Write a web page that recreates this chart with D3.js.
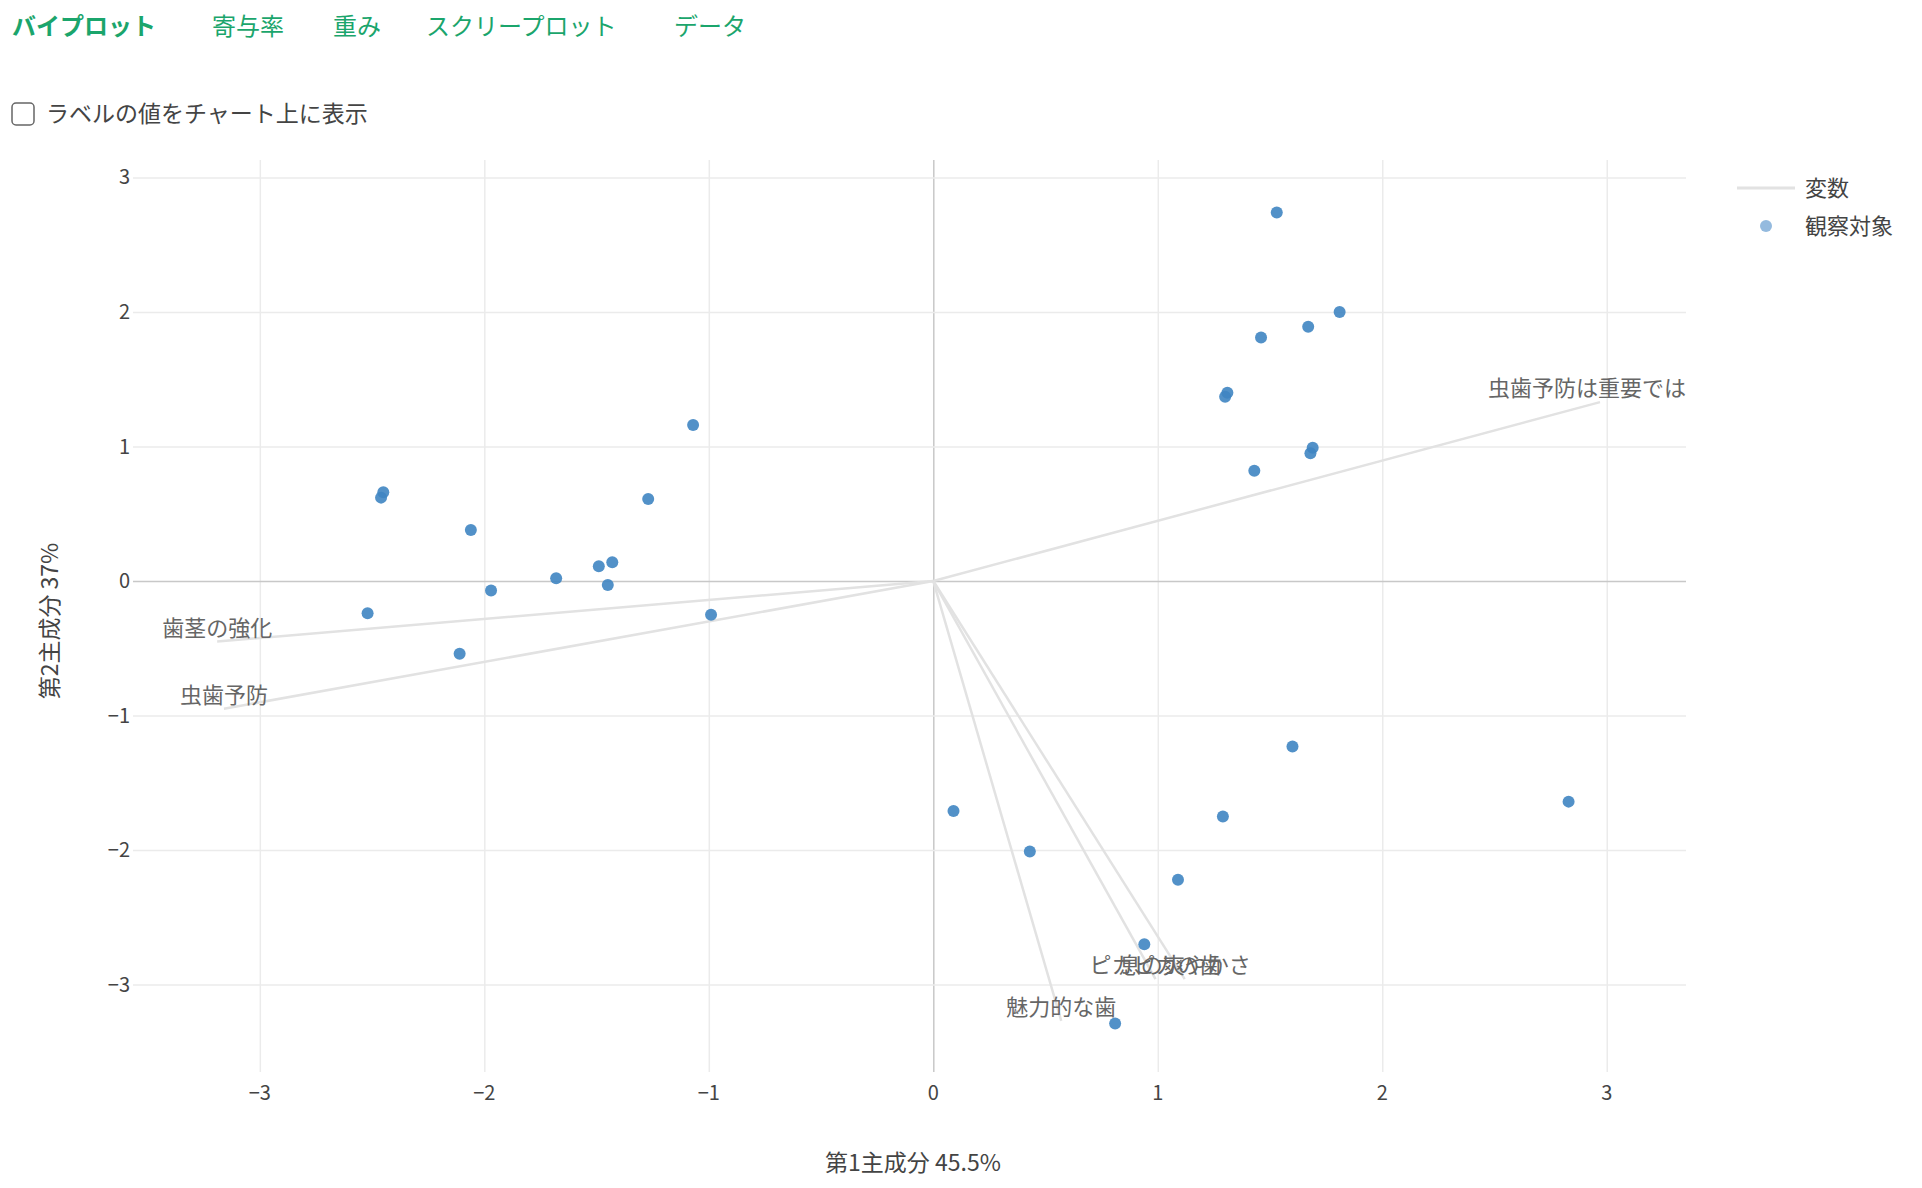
<!DOCTYPE html>
<html><head><meta charset="utf-8">
<script src="https://cdn.jsdelivr.net/npm/d3@7"></script>
<style>
body{margin:0;background:#fff;font-family:"Noto Sans CJK JP","Noto Sans",sans-serif;}
</style></head>
<body><svg id="c" width="1922" height="1188"></svg>
<script>
// ── Data ──────────────────────────────────────────────────────────────
const tabs = ["バイプロット", "寄与率", "重み", "スクリープロット", "データ"];
const tabX = [12, 212, 333, 426, 674];

const obsX = [1.53,1.81,1.67,1.46,1.31,1.30,1.69,1.68,1.43,-1.07,-1.27,-2.45,-2.46,-2.06,-1.68,-1.49,-1.43,-1.45,-1.97,-2.52,-0.99,-2.11,1.60,0.09,1.29,2.83,0.43,1.09,0.94,0.81];
const obsY = [2.74,2.00,1.89,1.81,1.40,1.37,0.99,0.95,0.82,1.16,0.61,0.66,0.62,0.38,0.02,0.11,0.14,-0.03,-0.07,-0.24,-0.25,-0.54,-1.23,-1.71,-1.75,-1.64,-2.01,-2.22,-2.70,-3.29];

const varNames = ["虫歯予防は重要では", "歯茎の強化", "虫歯予防", "魅力的な歯", "ピカピカの歯", "息の爽やかさ"];
const varX = [2.97, -3.19, -3.16, 0.57, 0.99, 1.12];
const varY = [1.33, -0.45, -0.95, -3.27, -2.96, -2.96];

const ticks = [-3, -2, -1, 0, 1, 2, 3];

// ── Layout ────────────────────────────────────────────────────────────
const svg = d3.select("#c");
const L = 133, R = 1686, T = 160, B = 1072;
const x = d3.scaleLinear().domain([-3.565, 3.353]).range([L, R]);
const y = d3.scaleLinear().domain([-3.65, 3.13]).range([B, T]);

// tabs
tabs.forEach((t, i) => {
  svg.append("text").attr("x", tabX[i]).attr("y", 35)
    .attr("fill", "#1ba56c").attr("font-size", 24)
    .attr("font-weight", i === 0 ? "bold" : "normal").text(t);
});
svg.append("rect").attr("x", 12).attr("y", 103).attr("width", 22).attr("height", 22)
  .attr("rx", 4).attr("fill", "#fff").attr("stroke", "#666").attr("stroke-width", 1.5);
svg.append("text").attr("x", 46).attr("y", 122).attr("font-size", 23)
  .attr("fill", "#444").text("ラベルの値をチャート上に表示");

const g = svg.append("g");

// grid
g.append("g").attr("transform", `translate(0,${B})`)
  .call(d3.axisBottom(x).tickValues(ticks).tickSize(-(B - T)).tickFormat(""))
  .call(a => a.select(".domain").remove())
  .selectAll("line").attr("stroke", d => d === 0 ? "#c8c8c8" : "#ebebeb").attr("stroke-width", 1.5);
g.append("g").attr("transform", `translate(${L},0)`)
  .call(d3.axisLeft(y).tickValues(ticks).tickSize(-(R - L)).tickFormat(""))
  .call(a => a.select(".domain").remove())
  .selectAll("line").attr("stroke", d => d === 0 ? "#c8c8c8" : "#ebebeb").attr("stroke-width", 1.5);

// tick labels
const fmt = d => d < 0 ? "−" + Math.abs(d) : String(d);
g.selectAll(".xt").data(ticks).join("text")
  .attr("x", d => x(d)).attr("y", 1100).attr("text-anchor", "middle")
  .attr("font-size", 20).attr("fill", "#444").text(fmt);
g.selectAll(".yt").data(ticks).join("text")
  .attr("x", 130).attr("y", d => y(d) + 7).attr("text-anchor", "end")
  .attr("font-size", 20).attr("fill", "#444").text(fmt);

svg.append("text").attr("x", 913).attr("y", 1171).attr("text-anchor", "middle")
  .attr("font-size", 23).attr("fill", "#444").text("第1主成分 45.5%");
svg.append("text").attr("transform", `translate(58,${y(0) + 40}) rotate(-90)`)
  .attr("text-anchor", "middle").attr("font-size", 23).attr("fill", "#444").text("第2主成分 37%");

// variable vectors
varNames.forEach((n, i) => {
  g.append("line").attr("x1", x(0)).attr("y1", y(0)).attr("x2", x(varX[i])).attr("y2", y(varY[i]))
    .attr("stroke", "#e2e2e2").attr("stroke-width", 2.5);
});

// observations
g.selectAll("circle.o").data(obsX).join("circle")
  .attr("cx", d => x(d)).attr("cy", (d, i) => y(obsY[i])).attr("r", 6)
  .attr("fill", "#3f85c2").attr("opacity", 0.9);

// variable labels
varNames.forEach((n, i) => {
  const t = g.append("text").attr("font-size", 22).attr("fill", "#666")
    .attr("text-anchor", "middle").attr("x", x(varX[i])).attr("y", y(varY[i]) - 6).text(n);
  const bb = t.node().getBBox();
  if (bb.x + bb.width > R) t.attr("text-anchor", "end").attr("x", R);
});

// legend
svg.append("line").attr("x1", 1737).attr("x2", 1795).attr("y1", 188).attr("y2", 188)
  .attr("stroke", "#e2e2e2").attr("stroke-width", 3);
svg.append("text").attr("x", 1805).attr("y", 196).attr("font-size", 22).attr("fill", "#444").text("変数");
svg.append("circle").attr("cx", 1766).attr("cy", 226).attr("r", 6).attr("fill", "#94bade");
svg.append("text").attr("x", 1805).attr("y", 234).attr("font-size", 22).attr("fill", "#444").text("観察対象");
</script></body></html>
